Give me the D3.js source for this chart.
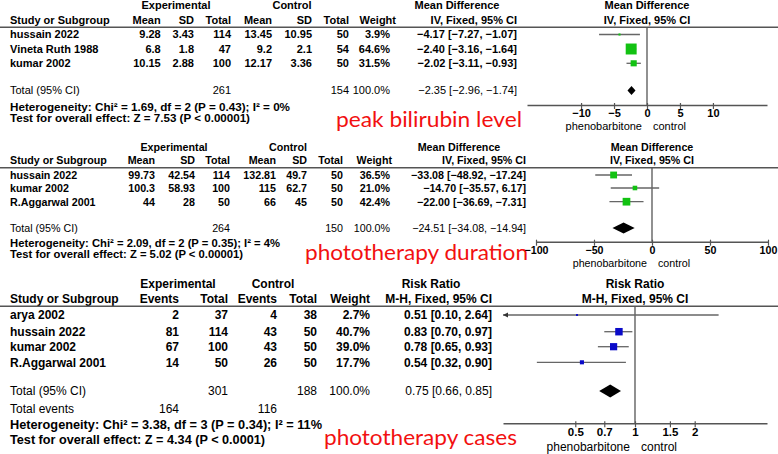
<!DOCTYPE html>
<html>
<head>
<meta charset="utf-8">
<script src="https://cdn.jsdelivr.net/npm/d3@7"></script>
<style>
body { margin: 0; background: #fff; }
svg { display: block; }
text { font-family: "Liberation Sans", Arial, sans-serif; fill: #000; }
</style>
</head>
<body>
<script>
// peak bilirubin level - mean difference
var studies1 = ["hussain 2022", "Vineta Ruth 1988", "kumar 2002"];
var expMean1 = [9.28, 6.8, 10.15], expSD1 = [3.43, 1.8, 2.88], expN1 = [114, 47, 100];
var ctlMean1 = [13.45, 9.2, 12.17], ctlSD1 = [10.95, 2.1, 3.36], ctlN1 = [50, 54, 50];
var weight1 = [3.9, 64.6, 31.5];
var est1 = [-4.17, -2.40, -2.02], lo1 = [-7.27, -3.16, -3.11], hi1 = [-1.07, -1.64, -0.93];
var total1 = [261, 154], pooled1 = [-2.35, -2.96, -1.74];
var ticks1 = [-10, -5, 0, 5, 10];
var het1 = "Heterogeneity: Chi\u00b2 = 1.69, df = 2 (P = 0.43); I\u00b2 = 0%";
var test1 = "Test for overall effect: Z = 7.53 (P < 0.00001)";

// phototherapy duration - mean difference
var studies2 = ["hussain 2022", "kumar 2002", "R.Aggarwal 2001"];
var expMean2 = [99.73, 100.3, 44], expSD2 = [42.54, 58.93, 28], expN2 = [114, 100, 50];
var ctlMean2 = [132.81, 115, 66], ctlSD2 = [49.7, 62.7, 45], ctlN2 = [50, 50, 50];
var weight2 = [36.5, 21.0, 42.4];
var est2 = [-33.08, -14.70, -22.00], lo2 = [-48.92, -35.57, -36.69], hi2 = [-17.24, 6.17, -7.31];
var total2 = [264, 150], pooled2 = [-24.51, -34.08, -14.94];
var ticks2 = [-100, -50, 0, 50, 100];
var het2 = "Heterogeneity: Chi\u00b2 = 2.09, df = 2 (P = 0.35); I\u00b2 = 4%";
var test2 = "Test for overall effect: Z = 5.02 (P < 0.00001)";

// phototherapy cases - risk ratio
var studies3 = ["arya 2002", "hussain 2022", "kumar 2002", "R.Aggarwal 2001"];
var expEv3 = [2, 81, 67, 14], expN3 = [37, 114, 100, 50];
var ctlEv3 = [4, 43, 43, 26], ctlN3 = [38, 50, 50, 50];
var weight3 = [2.7, 40.7, 39.0, 17.7];
var est3 = [0.51, 0.83, 0.78, 0.54], lo3 = [0.10, 0.70, 0.65, 0.32], hi3 = [2.64, 0.97, 0.93, 0.90];
var total3 = [301, 188], events3 = [164, 116], pooled3 = [0.75, 0.66, 0.85];
var ticks3 = [0.5, 0.7, 1, 1.5, 2];
var het3 = "Heterogeneity: Chi\u00b2 = 3.38, df = 3 (P = 0.34); I\u00b2 = 11%";
var test3 = "Test for overall effect: Z = 4.34 (P < 0.0001)";

var width = 778, height = 454;

var svg = d3.select("body").append("svg")
  .attr("width", width)
  .attr("height", height);

svg.append("rect").attr("width", width).attr("height", height).attr("fill", "#fff");

var sizeScale = d3.scaleLinear().domain([0, 65]).range([1.5, 11]);

function minus(s) { return String(s).replace(/-/g, "\u2212") }

function ci(e, l, h) {
  return minus(e.toFixed(2) + " [" + l.toFixed(2) + ", " + h.toFixed(2) + "]");
}

function drawPanel(p) {
  var g = svg.append("g").style("font-size", p.fs + "px");

  function t(x, y, s, anchor, bold) {
    return g.append("text")
      .attr("x", x)
      .attr("y", y)
      .attr("dy", "0.36em")
      .attr("text-anchor", anchor)
      .attr("font-weight", bold ? "bold" : "normal")
      .text(s);
  }

  var x = p.x, x0 = x(p.nullValue);
  var dom = x.domain();

  // headings
  t(p.expX, p.y.top, "Experimental", "middle", true);
  t(p.ctlX, p.y.top, "Control", "middle", true);
  t(p.effHdrX, p.y.top, p.measure, "middle", true);
  t(x0, p.y.top, p.measure, "middle", true);

  t(10, p.y.head, "Study or Subgroup", "start", true);
  p.colNames.forEach(function(c, i) { t(p.colX[i], p.y.head, c, "end", true) });
  t(p.weightHdrX, p.y.head, "Weight", "end", true);
  t(p.effX, p.y.head, p.method, "end", true);
  t(x0, p.y.head, p.method, "middle", true);

  g.append("line")
    .attr("x1", 0).attr("x2", width)
    .attr("y1", p.y.line).attr("y2", p.y.line)
    .attr("stroke", "#555").attr("stroke-width", 1.5);

  // study rows
  p.studies.forEach(function(s, i) {
    var y = p.y.rows[i];
    t(10, y, s, "start", true);
    p.cols.forEach(function(col, j) { t(p.colX[j], y, col[i], "end", true) });
    t(p.weightX, y, p.weight[i].toFixed(1) + "%", "end", true);
    t(p.effX, y, ci(p.est[i], p.lo[i], p.hi[i]), "end", true);
  });

  // total row
  t(10, p.y.total, "Total (95% CI)", "start", false);
  t(p.colX[p.nCols[0]], p.y.total, p.totals[0], "end", false);
  t(p.colX[p.nCols[1]], p.y.total, p.totals[1], "end", false);
  t(p.weightX, p.y.total, "100.0%", "end", false);
  t(p.effX, p.y.total, ci(p.pooled[0], p.pooled[1], p.pooled[2]), "end", false);

  if (p.events) {
    t(10, p.y.events, "Total events", "start", false);
    t(p.colX[0], p.y.events, p.events[0], "end", false);
    t(p.colX[2], p.y.events, p.events[1], "end", false);
  }

  t(10, p.y.het, p.het, "start", true).attr("textLength", p.hetW).attr("lengthAdjust", "spacingAndGlyphs");
  t(10, p.y.test, p.test, "start", true).attr("textLength", p.testW).attr("lengthAdjust", "spacingAndGlyphs");

  // red label
  g.append("text")
    .attr("x", p.label.x)
    .attr("y", p.label.y)
    .attr("textLength", p.label.w)
    .attr("lengthAdjust", "spacingAndGlyphs")
    .style("font-family", "Lato, 'Open Sans', sans-serif")
    .style("font-size", "21px")
    .style("fill", "#f21010")
    .text(p.label.text);

  // no-effect line
  g.append("line")
    .attr("x1", x0).attr("x2", x0)
    .attr("y1", p.y.line).attr("y2", p.axisY)
    .attr("stroke", "#555").attr("stroke-width", 1.3);

  // axis
  var axis = d3.axisBottom(x)
    .tickValues(p.ticks)
    .tickFormat(function(d) { return minus(d) })
    .tickSize(4)
    .tickSizeOuter(0)
    .tickPadding(0.5);

  var ax = g.append("g")
    .attr("transform", "translate(0," + p.axisY + ")")
    .call(axis);

  ax.select(".domain").attr("stroke", "#555").attr("stroke-width", 1.4);
  ax.selectAll(".tick line").attr("y1", -2).attr("y2", 4).attr("stroke", "#555").attr("stroke-width", 1.2);
  ax.selectAll(".tick text")
    .attr("fill", "#000")
    .style("font-family", "'Liberation Sans', Arial, sans-serif")
    .style("font-size", p.tickFs + "px")
    .style("font-weight", "bold");

  t(x0 - 5, p.axisY + p.pbOff, "phenobarbitone", "end", false);
  t(x0 + 6, p.axisY + p.pbOff, "control", "start", false);

  // confidence intervals
  p.studies.forEach(function(s, i) {
    var y = p.y.rows[i];
    var l = Math.max(p.lo[i], dom[0]), h = Math.min(p.hi[i], dom[1]);
    g.append("line")
      .attr("x1", x(l)).attr("x2", x(h))
      .attr("y1", y).attr("y2", y)
      .attr("stroke", "#666").attr("stroke-width", 1.3);
    if (p.lo[i] < dom[0]) {
      var ax0 = x(dom[0]);
      g.append("path")
        .attr("d", "M" + ax0 + "," + y + "L" + (ax0 + 5) + "," + (y - 2.5) + "L" + (ax0 + 5) + "," + (y + 2.5) + "Z")
        .attr("fill", "#333");
    }
    var sz = sizeScale(p.weight[i]);
    g.append("rect")
      .attr("x", x(p.est[i]) - sz / 2)
      .attr("y", y - sz / 2)
      .attr("width", sz)
      .attr("height", sz)
      .attr("fill", p.color);
  });

  // pooled diamond
  var dy = p.y.total, hh = p.diamondH;
  g.append("path")
    .attr("d", "M" + x(p.pooled[1]) + "," + dy +
      "L" + x(p.pooled[0]) + "," + (dy - hh) +
      "L" + x(p.pooled[2]) + "," + dy +
      "L" + x(p.pooled[0]) + "," + (dy + hh) + "Z")
    .attr("fill", "#000");
}

drawPanel({
  fs: 11, tickFs: 11, pbOff: 21,
  y: { top: 5.5, head: 20, line: 27.3, rows: [34.5, 49, 63.3], total: 90.5, het: 107, test: 118.5 },
  axisY: 105,
  expX: 176, ctlX: 292,
  measure: "Mean Difference", method: "IV, Fixed, 95% CI",
  effHdrX: 457, effX: 517,
  colNames: ["Mean", "SD", "Total", "Mean", "SD", "Total"],
  colX: [160.7, 194, 231, 272, 312, 349],
  cols: [expMean1, expSD1, expN1, ctlMean1, ctlSD1, ctlN1],
  nCols: [2, 5],
  weightHdrX: 396, weightX: 390,
  studies: studies1, weight: weight1, est: est1, lo: lo1, hi: hi1,
  totals: total1, pooled: pooled1,
  het: het1, test: test1, hetW: 280, testW: 240,
  x: d3.scaleLinear().domain([-18.2, 18.2]).range([527, 767]),
  nullValue: 0, ticks: ticks1,
  color: "#12c212", diamondH: 4.5,
  label: { text: "peak bilirubin level", x: 336, y: 126.7, w: 186 }
});

drawPanel({
  fs: 10.7, tickFs: 10.7, pbOff: 21,
  y: { top: 146.7, head: 160, line: 167.7, rows: [175, 188, 201.7], total: 228, het: 243.3, test: 254.3 },
  axisY: 241.7,
  expX: 174, ctlX: 288,
  measure: "Mean Difference", method: "IV, Fixed, 95% CI",
  effHdrX: 459, effX: 526,
  colNames: ["Mean", "SD", "Total", "Mean", "SD", "Total"],
  colX: [155, 195, 230, 276, 307, 343],
  cols: [expMean2, expSD2, expN2, ctlMean2, ctlSD2, ctlN2],
  nCols: [2, 5],
  weightHdrX: 392, weightX: 390,
  studies: studies2, weight: weight2, est: est2, lo: lo2, hi: hi2,
  totals: total2, pooled: pooled2,
  het: het2, test: test2, hetW: 270, testW: 233,
  x: d3.scaleLinear().domain([-100, 100]).range([536, 768]),
  nullValue: 0, ticks: ticks2,
  color: "#12c212", diamondH: 5.5,
  label: { text: "phototherapy duration", x: 305, y: 260, w: 223 }
});

drawPanel({
  fs: 12, tickFs: 11.5, pbOff: 23,
  y: { top: 283.3, head: 299, line: 306.3, rows: [315, 331.7, 346.7, 362.3], total: 391, events: 408.3, het: 424.3, test: 439.3 },
  axisY: 423.3,
  expX: 178, ctlX: 273,
  measure: "Risk Ratio", method: "M-H, Fixed, 95% CI",
  effHdrX: 431, effX: 492,
  colNames: ["Events", "Total", "Events", "Total"],
  colX: [179, 228, 277, 317],
  cols: [expEv3, expN3, ctlEv3, ctlN3],
  nCols: [1, 3],
  weightHdrX: 370, weightX: 370,
  studies: studies3, weight: weight3, est: est3, lo: lo3, hi: hi3,
  totals: total3, pooled: pooled3, events: events3,
  het: het3, test: test3, hetW: 312, testW: 255,
  x: d3.scaleLog().domain([0.216, 4.63]).range([503, 767]),
  nullValue: 1, ticks: ticks3,
  color: "#0a0ac8", diamondH: 6.5,
  label: { text: "phototherapy cases", x: 324, y: 445, w: 193 }
});
</script>
</body>
</html>
